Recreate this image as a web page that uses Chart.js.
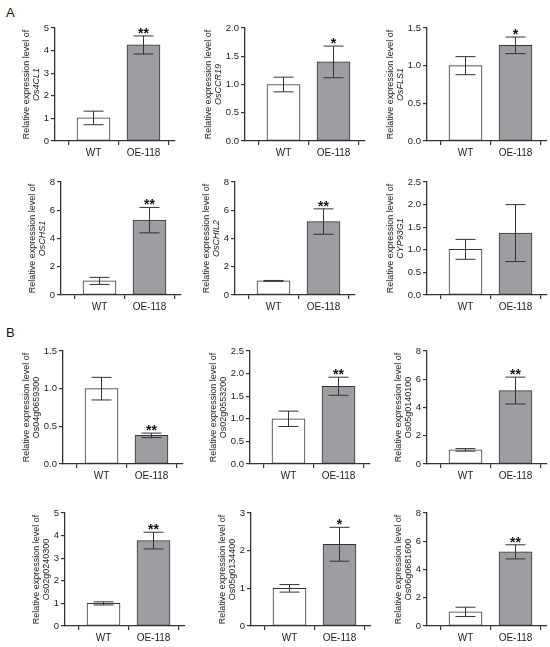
<!DOCTYPE html>
<html>
<head>
<meta charset="utf-8">
<script src="https://cdn.jsdelivr.net/npm/chart.js@4.4.1/dist/chart.umd.min.js"></script>
<style>
  body { margin: 0; background: #fff; }
  #wrap { position: relative; width: 550px; height: 647px; background: #fff; overflow: hidden; }
  #wrap canvas { position: absolute; }
  .panel-tag { position: absolute; font: 13px "Liberation Sans", Arial, sans-serif; color: #111; }
</style>
</head>
<body>
<div id="wrap">
  <div class="panel-tag" style="left:6px; top:5px;">A</div>
  <div class="panel-tag" style="left:6px; top:325px;">B</div>
</div>
<script>
// gene shown on each y-axis title (panels left->right, top->bottom)
var geneNames = ["Os4CL1", "OsCCR19", "OsFLS1", "OsCHS1", "OsCHIL2", "CYP93G1",
  "Os04g0659300", "Os02g0553200", "Os05g0140100", "Os02g0240300", "Os05g0134400", "Os06g0681600"];
var italicGene = [true, true, true, true, true, true, false, false, false, false, false, false];
var groupLabels = ["WT", "OE-118"];

// means and error (± half-length)
var wtMean = [1.02, 1.0, 1.0, 1.0, 1.0, 1.01, 1.0, 1.0, 1.0, 1.0, 1.0, 1.0];
var wtErr = [0.3, 0.13, 0.12, 0.25, 0.03, 0.22, 0.15, 0.17, 0.09, 0.07, 0.1, 0.33];
var oeMean = [4.25, 1.4, 1.27, 5.3, 5.2, 1.37, 0.38, 1.72, 5.2, 3.78, 2.17, 5.25];
var oeErr = [0.4, 0.28, 0.11, 0.9, 0.9, 0.63, 0.03, 0.2, 0.95, 0.37, 0.45, 0.5];
var oeSig = ["**", "*", "*", "**", "**", "", "**", "**", "**", "**", "*", "**"];

// y axis range / tick step
var yMax = [5, 2, 1.5, 8, 8, 2.5, 1.5, 2.5, 8, 5, 3, 8];
var yStep = [1, 0.5, 0.5, 2, 2, 0.5, 0.5, 0.5, 2, 1, 1, 2];

var FONT = '"Liberation Sans", Arial, sans-serif';
var INK = "#333";

// where each plot's y-axis sits, and top of each row's plot area
var axisLeft = [55, 245, 427, 61, 235, 427, 63, 250, 427, 65, 251, 427];
var rowTop = [28, 182, 351, 513];
var plotH = 113, axisLen = 120, padL = 55, padT = 14, xAxisH = 24;

// error bars + significance stars
var errorBarPlugin = {
  id: "errorBars",
  afterDatasetsDraw: function (chart, args, opts) {
    var ctx = chart.ctx;
    var yScale = chart.scales.y;
    var bars = chart.getDatasetMeta(0).data;
    var means = [wtMean[opts.idx], oeMean[opts.idx]];
    var errs = [wtErr[opts.idx], oeErr[opts.idx]];
    ctx.save();
    ctx.strokeStyle = INK;
    ctx.lineWidth = 1;
    bars.forEach(function (bar, i) {
      var top = yScale.getPixelForValue(means[i] + errs[i]);
      var bot = yScale.getPixelForValue(means[i] - errs[i]);
      ctx.beginPath();
      ctx.moveTo(bar.x, top);
      ctx.lineTo(bar.x, bot);
      ctx.moveTo(bar.x - 10, top);
      ctx.lineTo(bar.x + 10, top);
      ctx.moveTo(bar.x - 10, bot);
      ctx.lineTo(bar.x + 10, bot);
      ctx.stroke();
      if (i === 1 && oeSig[opts.idx]) {
        ctx.fillStyle = "#111";
        ctx.font = "bold 14px " + FONT;
        ctx.textAlign = "center";
        ctx.textBaseline = "alphabetic";
        ctx.fillText(oeSig[opts.idx], bar.x, top + 2);
      }
    });
    ctx.restore();
  },
};

// two-line y title, gene name italic in part A
var yTitlePlugin = {
  id: "yTitle",
  afterDraw: function (chart, args, opts) {
    var ctx = chart.ctx;
    var area = chart.chartArea;
    var yScale = chart.scales.y;
    ctx.save();
    ctx.font = "9.5px " + FONT;
    var maxW = 0;
    yScale.ticks.forEach(function (t) {
      var w = ctx.measureText(yScale.options.ticks.callback(t.value)).width;
      if (w > maxW) maxW = w;
    });
    var labelLeft = area.left - 6 - maxW;
    var cy = (area.top + area.bottom) / 2;
    ctx.font = "9px " + FONT;
    ctx.fillStyle = "#222";
    ctx.textAlign = "center";
    ctx.textBaseline = "middle";
    ctx.translate(labelLeft - 17, cy);
    ctx.rotate(-Math.PI / 2);
    ctx.fillText("Relative expression level of", 0, 0);
    ctx.font = (italicGene[opts.idx] ? "italic " : "") + "9px " + FONT;
    ctx.fillText(geneNames[opts.idx], 0, 10);
    ctx.restore();
  },
};

document.addEventListener("DOMContentLoaded", function () {
  var wrap = document.getElementById("wrap");

  geneNames.forEach(function (gene, idx) {
    var canvas = document.createElement("canvas");
    canvas.width = padL + axisLen + 6;
    canvas.height = padT + plotH + xAxisH;
    canvas.style.left = axisLeft[idx] - padL + "px";
    canvas.style.top = rowTop[Math.floor(idx / 3)] - padT + "px";
    wrap.appendChild(canvas);

    var step = yStep[idx];

    new Chart(canvas.getContext("2d"), {
      type: "bar",
      data: {
        datasets: [
          {
            data: [
              { x: 1, y: wtMean[idx] },
              { x: 2, y: oeMean[idx] },
            ],
            backgroundColor: ["#ffffff", "#9e9ea2"],
            borderColor: INK,
            borderWidth: 1,
            borderSkipped: false,
            barThickness: 33,
          },
        ],
      },
      options: {
        responsive: false,
        animation: false,
        layout: { padding: { left: 0, top: padT, right: 6, bottom: 0 } },
        plugins: {
          legend: { display: false },
          tooltip: { enabled: false },
          errorBars: { idx: idx },
          yTitle: { idx: idx },
        },
        scales: {
          x: {
            type: "linear",
            offset: false,
            min: 0.23,
            max: 2.63,
            afterBuildTicks: function (s) {
              s.ticks = [{ value: 1 }, { value: 2 }];
            },
            afterFit: function (s) {
              s.height = xAxisH;
            },
            grid: { drawOnChartArea: false, color: INK, tickLength: 4, lineWidth: 1.2 },
            border: { color: INK, width: 1.3 },
            ticks: {
              padding: 2,
              color: "#222",
              font: { family: FONT, size: 10 },
              maxRotation: 0,
              callback: function (v) {
                return groupLabels[v - 1];
              },
            },
          },
          y: {
            min: 0,
            max: yMax[idx],
            afterFit: function (s) {
              s.width = padL;
            },
            grid: { drawOnChartArea: false, color: INK, tickLength: 4, lineWidth: 1.2 },
            border: { color: INK, width: 1.3 },
            ticks: {
              stepSize: step,
              padding: 2,
              color: "#222",
              font: { family: FONT, size: 9.5 },
              callback: function (v) {
                return step < 1 ? Number(v).toFixed(1) : String(v);
              },
            },
          },
        },
      },
      plugins: [errorBarPlugin, yTitlePlugin],
    });
  });
});
</script>
</body>
</html>
